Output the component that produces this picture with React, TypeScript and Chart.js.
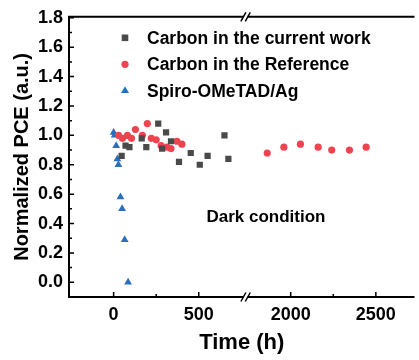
import React, { useEffect, useRef } from 'react';
import { Chart, registerables } from 'chart.js';
Chart.register(...registerables);

// Broken x axis: values between BREAK_LO and BREAK_HI are cut out
const BREAK_LO = 775;
const BREAK_HI = 1735;
const GAP = BREAK_HI - BREAK_LO;
const toAxis = (x: number) => (x >= BREAK_HI ? x - GAP : x);
const fromAxis = (v: number) => (v > BREAK_LO ? v + GAP : v);

const xTickValues = [0, 500, 2000, 2500];
const xMinorValues = [250, 2250];
const yTickValues = [0, 0.2, 0.4, 0.6, 0.8, 1.0, 1.2, 1.4, 1.6, 1.8];
const yMinorValues = [0.1, 0.3, 0.5, 0.7, 0.9, 1.1, 1.3, 1.5, 1.7];

const seriesNames = ['Carbon in the current work', 'Carbon in the Reference', 'Spiro-OMeTAD/Ag'];

const currentTime = [47, 70, 93, 165, 192, 262, 285, 308, 337, 384, 453, 506, 552, 651, 674];
const currentPCE = [0.86, 0.93, 0.92, 0.98, 0.92, 1.08, 0.91, 1.02, 0.96, 0.82, 0.88, 0.80, 0.86, 1.00, 0.84];

const refTime = [29, 52, 81, 105, 128, 169, 198, 221, 250, 279, 314, 337, 372, 401, 1862, 1960, 2057, 2161, 2241, 2345, 2443];
const refPCE = [1.00, 0.98, 1.00, 0.98, 1.04, 1.00, 1.08, 0.98, 0.97, 0.93, 0.92, 0.91, 0.96, 0.94, 0.88, 0.92, 0.94, 0.92, 0.90, 0.90, 0.92];

const spiroTime = [0, 6, 15, 22, 28, 40, 50, 65, 85];
const spiroPCE = [1.02, 1.00, 0.93, 0.84, 0.80, 0.58, 0.50, 0.29, 0.00];

const COLORS = ['#4a4a4a', '#ef4450', '#2a6fbd'];
const STYLES = ['rect', 'circle', 'triangle'];
const RADII = [4.4, 3.6, 4.5];
const FONT = '"Liberation Sans", Arial, sans-serif';

const toPoints = (xs: number[], ys: number[]) => xs.map((x, i) => ({ x: toAxis(x), y: ys[i] }));

const framePlugin = {
  id: 'frame',
  afterDraw(chart: any) {
    const { ctx, chartArea } = chart;
    const xs = chart.scales.x;
    const ys = chart.scales.y;
    const { left, right, top, bottom } = chartArea;
    ctx.save();
    ctx.strokeStyle = '#000';
    ctx.lineWidth = 2;
    ctx.lineCap = 'butt';
    ctx.beginPath();
    ctx.moveTo(left, top - 1);
    ctx.lineTo(left, bottom + 1);
    ctx.moveTo(left - 1, bottom);
    ctx.lineTo(right, bottom);
    ctx.moveTo(left - 1, top);
    ctx.lineTo(right, top);
    ctx.stroke();
    ctx.lineWidth = 1.5;
    ctx.beginPath();
    xTickValues.forEach((v) => {
      const p = xs.getPixelForValue(toAxis(v));
      ctx.moveTo(p, bottom);
      ctx.lineTo(p, bottom - 5);
    });
    xMinorValues.forEach((v) => {
      const p = xs.getPixelForValue(toAxis(v));
      ctx.moveTo(p, bottom);
      ctx.lineTo(p, bottom - 3);
    });
    yTickValues.forEach((v) => {
      const p = ys.getPixelForValue(v);
      ctx.moveTo(left, p);
      ctx.lineTo(left + 5, p);
    });
    yMinorValues.forEach((v) => {
      const p = ys.getPixelForValue(v);
      ctx.moveTo(left, p);
      ctx.lineTo(left + 3, p);
    });
    ctx.stroke();
    const bx = xs.getPixelForValue(BREAK_LO);
    [top, bottom].forEach((yy) => {
      ctx.fillStyle = '#fff';
      ctx.fillRect(bx - 2, yy - 2, 4, 4);
      ctx.strokeStyle = '#000';
      ctx.lineWidth = 1.5;
      ctx.beginPath();
      [-2.2, 2.2].forEach((d) => {
        ctx.moveTo(bx + d - 2.5, yy + 4.5);
        ctx.lineTo(bx + d + 2.5, yy - 4.5);
      });
      ctx.stroke();
    });
    ctx.font = `bold 17.5px ${FONT}`;
    ctx.textBaseline = 'middle';
    ctx.textAlign = 'left';
    seriesNames.forEach((name, i) => {
      const my = top + 21 + i * 26.5;
      const mx = left + 56;
      ctx.fillStyle = COLORS[i];
      ctx.beginPath();
      if (i === 0) {
        ctx.rect(mx - 3.3, my - 3.3, 6.6, 6.6);
      } else if (i === 1) {
        ctx.arc(mx, my, 3.6, 0, Math.PI * 2);
      } else {
        ctx.moveTo(mx, my - 4.5);
        ctx.lineTo(mx + 4, my + 2.3);
        ctx.lineTo(mx - 4, my + 2.3);
        ctx.closePath();
      }
      ctx.fill();
      ctx.fillStyle = '#000';
      ctx.fillText(name, left + 78, my + 1);
    });
    ctx.font = `bold 17px ${FONT}`;
    ctx.fillText('Dark condition', xs.getPixelForValue(545), ys.getPixelForValue(0.44));
    ctx.restore();
  },
};

export default function App() {
  const ref = useRef<HTMLCanvasElement | null>(null);
  useEffect(() => {
    if (!ref.current) return;
    const datasets = [
      toPoints(currentTime, currentPCE),
      toPoints(refTime, refPCE),
      toPoints(spiroTime, spiroPCE),
    ].map((data, i) => ({
      label: seriesNames[i],
      data,
      pointStyle: STYLES[i],
      pointRadius: RADII[i],
      pointHoverRadius: RADII[i],
      backgroundColor: COLORS[i],
      borderColor: COLORS[i],
      borderWidth: 0,
      showLine: false,
    }));
    const chart = new Chart(ref.current, {
      type: 'scatter',
      data: { datasets: datasets as any },
      plugins: [framePlugin],
      options: {
        animation: false,
        responsive: false,
        devicePixelRatio: 1,
        layout: { padding: { top: 12, right: 0, left: 0, bottom: 0 } },
        plugins: { legend: { display: false }, tooltip: { enabled: false } },
        scales: {
          x: {
            type: 'linear',
            min: -262,
            max: 1767,
            grid: { display: false, drawTicks: false },
            border: { display: false },
            afterFit: (s: any) => { s.height = 63; },
            afterBuildTicks: (s: any) => { s.ticks = xTickValues.map((v) => ({ value: toAxis(v) })); },
            ticks: {
              padding: 7,
              color: '#000',
              font: { family: FONT, weight: 'bold', size: 18 },
              callback: (v: any) => String(fromAxis(Number(v))),
            },
            title: {
              display: true,
              text: 'Time (h)',
              color: '#000',
              font: { family: FONT, weight: 'bold', size: 22 },
              padding: { top: 4, bottom: 4 },
            },
          },
          y: {
            min: -0.1,
            max: 1.807,
            grid: { display: false, drawTicks: false },
            border: { display: false },
            afterFit: (s: any) => { s.width = 69; },
            afterBuildTicks: (s: any) => { s.ticks = yTickValues.map((v) => ({ value: v })); },
            ticks: {
              padding: 6,
              color: '#000',
              font: { family: FONT, weight: 'bold', size: 18 },
              callback: (v: any) => Number(v).toFixed(1),
            },
            title: {
              display: true,
              text: 'Normalized PCE (a.u.)',
              color: '#000',
              font: { family: FONT, weight: 'bold', size: 20 },
              padding: { top: 10, bottom: 10 },
            },
          },
        },
      },
    });
    return () => chart.destroy();
  }, []);
  return (
    <div style={{ position: 'fixed', left: 0, top: 0, width: 419, height: 360, background: '#fff' }}>
      <canvas ref={ref} width={419} height={360} />
    </div>
  );
}
